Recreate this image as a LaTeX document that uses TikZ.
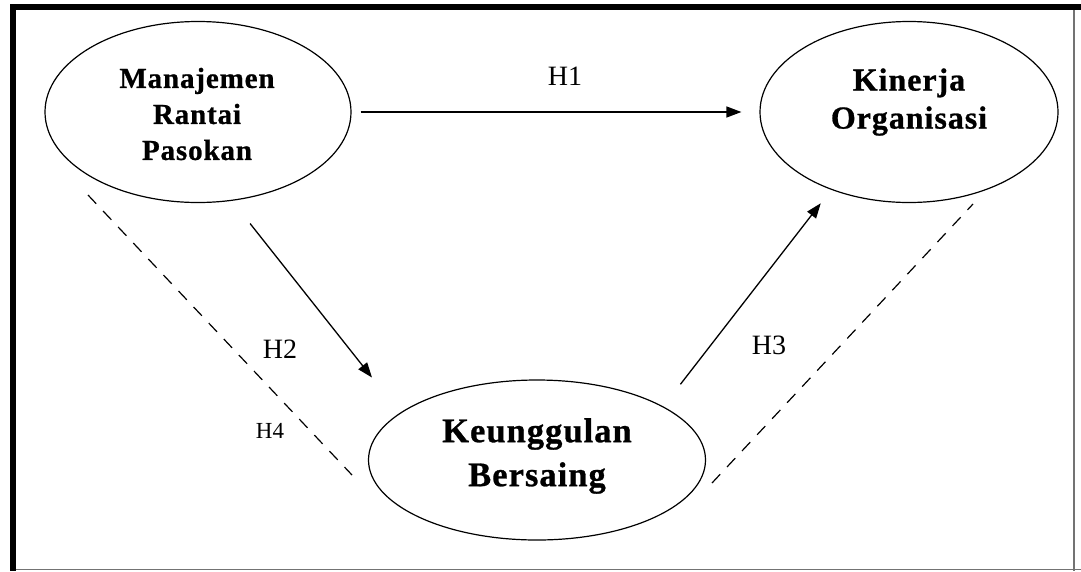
\documentclass[tikz,border=0pt]{standalone}
\usepackage{fontspec}
\setmainfont{Liberation Serif}
\newfontfamily\spacedbf[LetterSpace=3, BoldFeatures={FakeBold=0.8}]{Liberation Serif}
\usetikzlibrary{shapes.geometric,arrows.meta}
\tikzset{
  var/.style={draw, ellipse, line width=1.2pt, inner sep=0pt},
  vartext/.style={align=center, inner sep=0pt},
  path/.style={line width=1.3pt, -{Triangle[length=15pt,width=11pt]}},
  dashlink/.style={line width=1.2pt, dash pattern=on 12pt off 10pt},
  hyp/.style={font=\fontsize{28}{30}\selectfont, inner sep=0pt},
}
\begin{document}
\begin{tikzpicture}[x=1pt,y=-1pt]
\useasboundingbox (0,0) rectangle (1081,571);
\fill[white] (0,0) rectangle (1081,571);
% frame
\draw[line width=6pt] (10,7) -- (1081,7);
\draw[line width=6pt] (13,4) -- (13,571);
\draw[line width=1.5pt, black!55] (1074,10) -- (1074,571);
\draw[line width=1.5pt, black!55] (16,569.5) -- (1081,569.5);

% variables
\node[var, minimum width=306pt, minimum height=181pt] (mrp) at (198,112) {};
\node[vartext, font=\spacedbf\bfseries\fontsize{29}{36}\selectfont] (mrptext) at (197,114) {Manajemen\\Rantai\\Pasokan};
\node[var, minimum width=298pt, minimum height=181pt] (ko) at (909,112) {};
\node[vartext, font=\spacedbf\bfseries\fontsize{32}{38}\selectfont] (kotext) at (909,102) {Kinerja\\Organisasi};
\node[var, minimum width=337pt, minimum height=160pt] (kb) at (537,460) {};
\node[vartext, font=\spacedbf\bfseries\fontsize{34.5}{44}\selectfont] (kbtext) at (537,456) {Keunggulan\\Bersaing};

% hypotheses paths
\draw[path, shorten <=9pt, shorten >=18pt] (mrp.east) -- (ko.west);
\draw[path, shorten <=29pt, shorten >=45pt] (mrp.-69) -- (kb.161);
\draw[path, shorten <=28pt, shorten >=17pt] (kb.23) -- (ko.225);

% dashed links
\coordinate (d1a) at (88,195);
\coordinate (d1b) at (352,475);
\coordinate (d2a) at (712,483);
\coordinate (d2b) at (973,204);
\draw[dashlink] (d1a) -- (d1b);
\draw[dashlink] (d2a) -- (d2b);

% labels
\node[hyp] (h1) at (565,76) {H1};
\node[hyp] (h2) at (280,349) {H2};
\node[hyp] (h3) at (769,345) {H3};
\node[hyp, font=\fontsize{23}{25}\selectfont] (h4) at (270,431) {H4};
\end{tikzpicture}
\end{document}
